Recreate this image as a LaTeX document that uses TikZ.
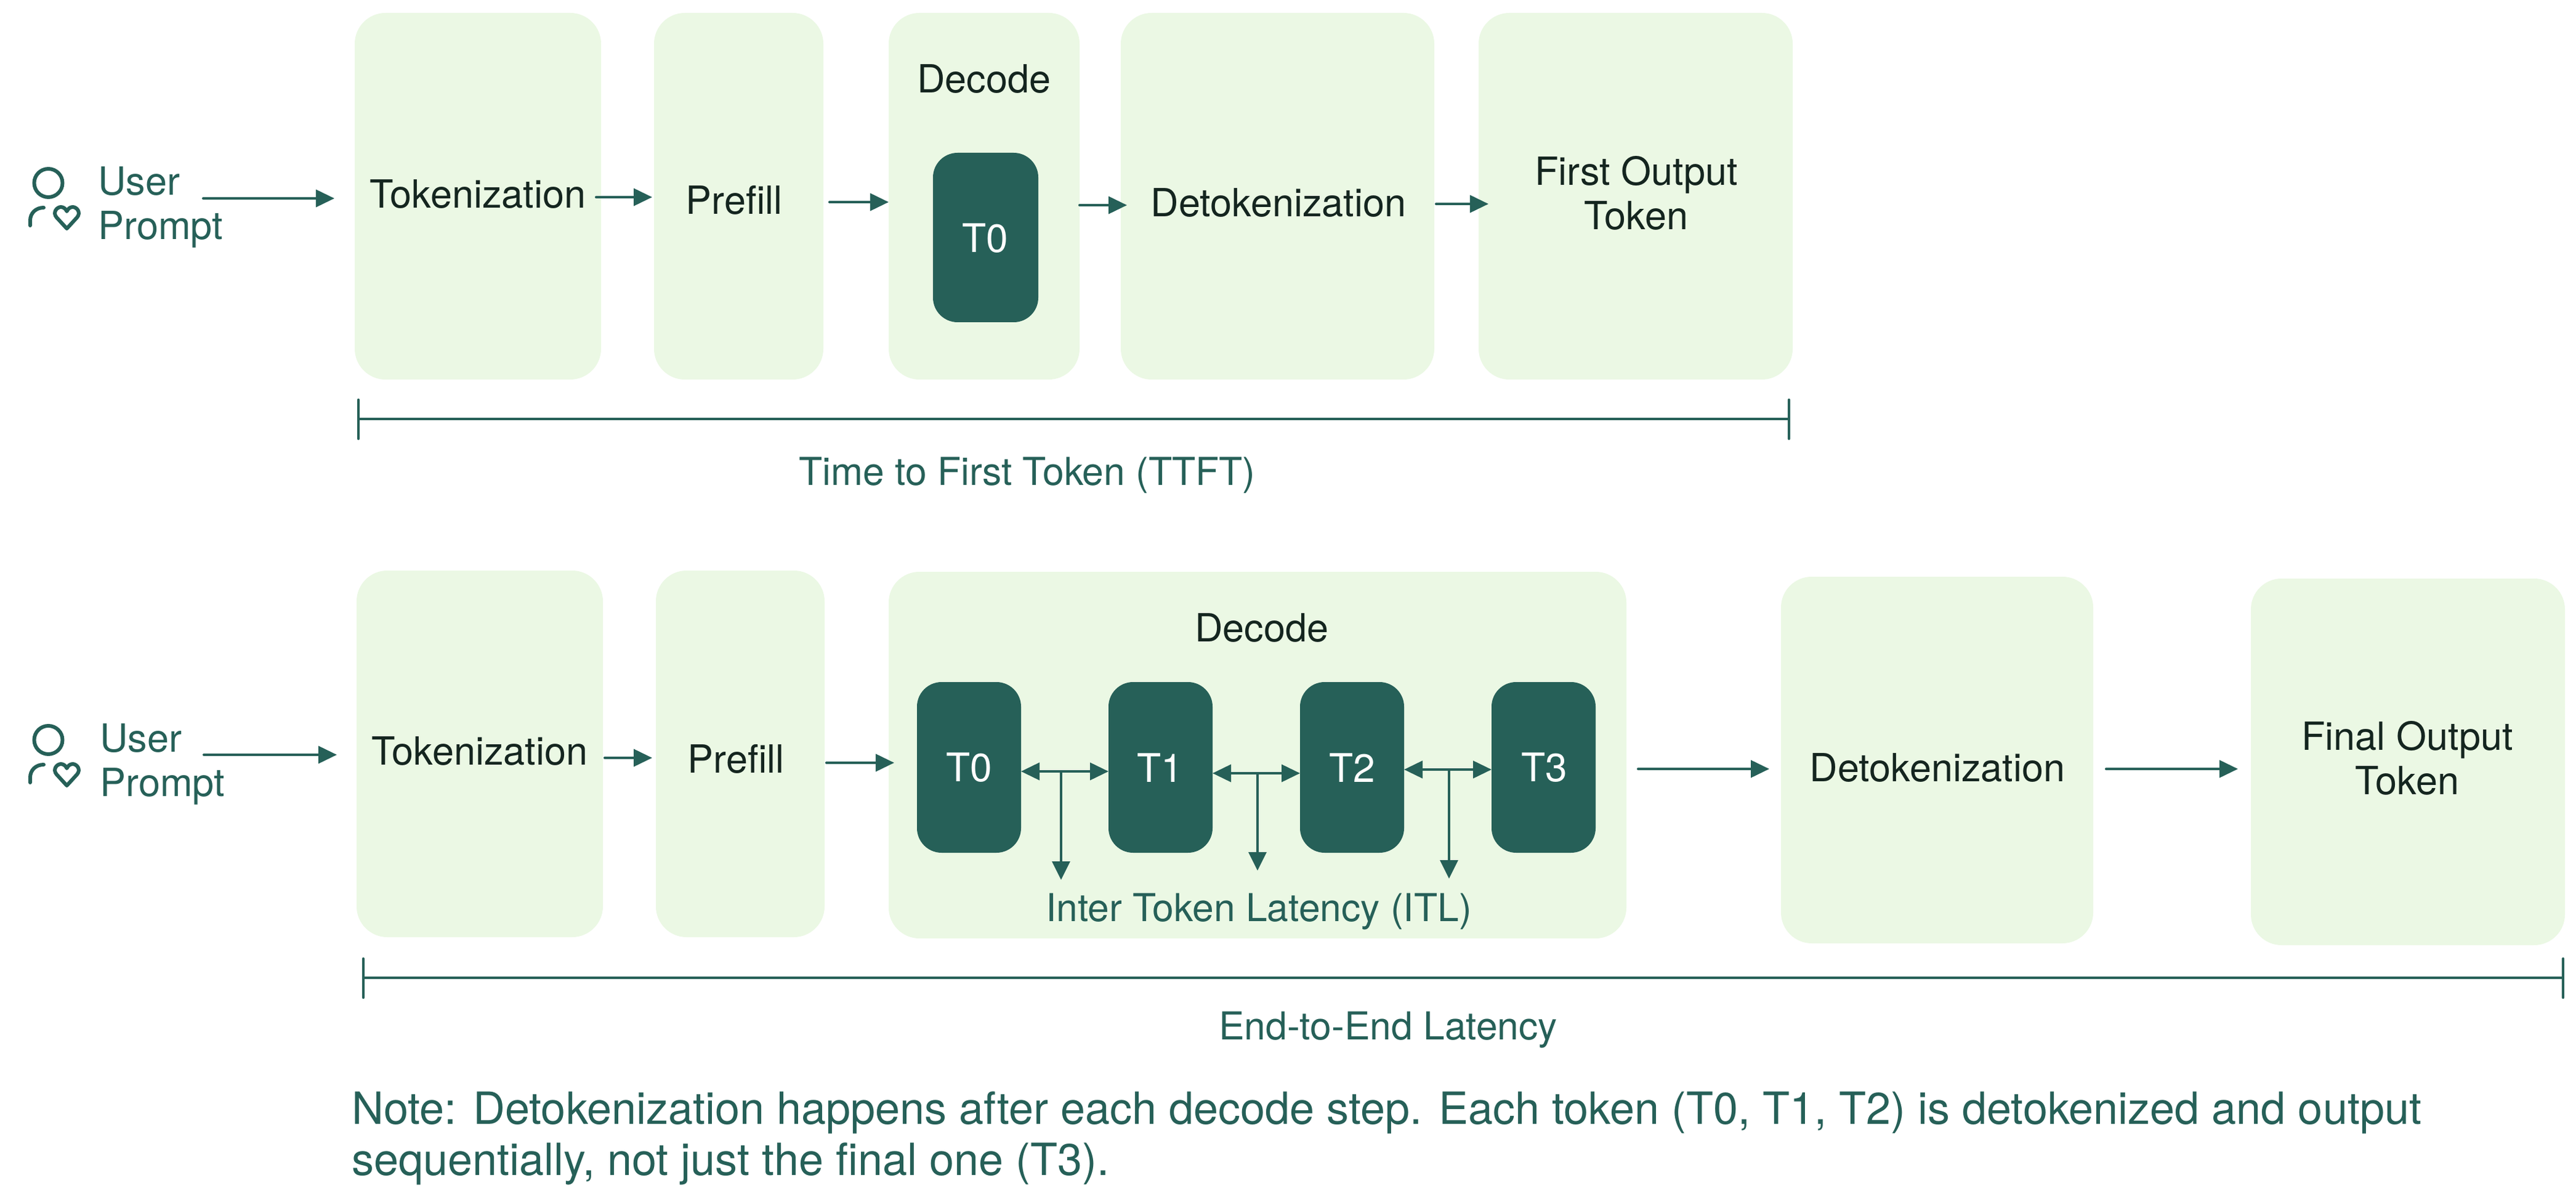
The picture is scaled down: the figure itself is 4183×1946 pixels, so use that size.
\documentclass[tikz,border=0pt]{standalone}
\usepackage{fontspec}
\setmainfont{TeX Gyre Heros}
\usetikzlibrary{arrows.meta,calc}
\definecolor{dk}{HTML}{266058}
\definecolor{lt}{HTML}{EBF8E4}
\definecolor{ink}{HTML}{14251F}
\newcommand{\bx}[6]{% name, x1,y1,x2,y2, style
  \pgfmathsetmacro{\bw}{(#4-#2)*0.5}\pgfmathsetmacro{\bh}{(#5-#3)*0.5}
  \pgfmathsetmacro{\bcx}{(#2+#4)/2}\pgfmathsetmacro{\bcy}{(#3+#5)/2}
  \node[#6,minimum width=\bw pt,minimum height=\bh pt] (#1) at (\bcx,\bcy) {};}
\tikzset{
  x=0.5pt,y=-0.5pt,
  lightbox/.style={fill=lt,draw=none,rounded corners=25pt,inner sep=0pt,outer sep=0pt},
  darkbox/.style={fill=dk,draw=none,rounded corners=20pt,inner sep=0pt,outer sep=0pt},
  boxlabel/.style={text=ink,font=\fontsize{31.5}{36}\selectfont,align=center,inner sep=0pt},
  toklabel/.style={text=white,font=\fontsize{32}{36}\selectfont,inner sep=0pt},
  greenlabel/.style={text=dk,font=\fontsize{31.2}{36}\selectfont,align=center,inner sep=0pt},
  userlabel/.style={text=dk,font=\fontsize{31.5}{36}\selectfont,align=left,inner sep=0pt,anchor=west},
  arr/.style={draw=dk,line width=2pt,line cap=round,-{Triangle[length=15pt,width=14pt]}},
  darr/.style={draw=dk,line width=2pt,{Triangle[length=15pt,width=14pt]}-{Triangle[length=15pt,width=14pt]}},
  downarr/.style={draw=dk,line width=1.7pt,-{Triangle[length=15pt,width=14.5pt]}},
  span/.style={draw=dk,line width=2.2pt},
  usericon/.pic={
    \draw[dk,line width=3pt] (78.5,297) circle[radius=23];
    \draw[dk,line width=3pt,line cap=round] (49,366) -- (49,358) .. controls (49,346) and (58,337) .. (71,337);
    \draw[dk,line width=3pt,line join=round] (108.5,371) -- (92,353) .. controls (85,345) and (92,336) .. (99,336) .. controls (103,336) and (107,339) .. (108.5,343) .. controls (110,339) and (114,336) .. (118,336) .. controls (125,336) and (132,345) .. (125,353) -- cycle;
  }
}
\begin{document}
\begin{tikzpicture}
\useasboundingbox (0,0) rectangle (4183,1946);
\fill[white] (0,0) rectangle (4183,1946);
% --- top row
\bx{tokA}{576}{21}{976}{616}{lightbox}
\bx{preA}{1062}{21}{1337}{616}{lightbox}
\bx{decA}{1443}{21}{1753}{616}{lightbox}
\bx{detA}{1820}{21}{2329}{616}{lightbox}
\bx{firA}{2401}{21}{2911}{616}{lightbox}
\bx{tzA}{1515}{248}{1686}{523}{darkbox}
\node[boxlabel] (ltokA) at (776,315) {Tokenization};
\node[boxlabel] (lpreA) at (1192,325) {Prefill};
\node[boxlabel] (ldecA) at (1598,128) {Decode};
\node[toklabel] (ltzA) at (1600,387) {T0};
\node[boxlabel] (ldetA) at (2076,329) {Detokenization};
\node[boxlabel] (lfirA) at (2657,313) {First Output\\Token};
\pic at (0,0) {usericon};
\node[userlabel] (upA) at (159,336) {User\\Prompt};
\coordinate (a0) at (330,322);
\coordinate (a1) at (968,320);
\coordinate (a2) at (1347,328);
\coordinate (a3) at (1753,333);
\coordinate (a4) at (2332,331);
\draw[arr] (a0) -- ($(a0 -| tokA.west)+(-33,0)$);
\draw[arr] (a1) -- ($(a1 -| preA.west)+(-3,0)$);
\draw[arr] (a2) -- (a2 -| decA.west);
\draw[arr] (a3) -- ($(a3 -| detA.west)+(10,0)$);
\draw[arr] (a4) -- ($(a4 -| firA.west)+(16,0)$);
\coordinate (sAl) at (582,680);
\coordinate (sAr) at (2905,680);
\draw[span] (sAl) -- (sAr);
\draw[span,line cap=round] ($(sAl)+(0,-31)$) -- ($(sAl)+(0,32)$);
\draw[span,line cap=round] ($(sAr)+(0,-31)$) -- ($(sAr)+(0,32)$);
\node[greenlabel] (ttft) at (1668,771) {Time to First Token (TTFT)};
% --- bottom row
\bx{tokB}{579}{926}{979}{1521}{lightbox}
\bx{preB}{1065}{926}{1339}{1521}{lightbox}
\bx{decB}{1443}{928}{2641}{1523}{lightbox}
\bx{detB}{2892}{936}{3399}{1531}{lightbox}
\bx{finB}{3655}{939}{4165}{1534}{lightbox}
\bx{tzB}{1489}{1107}{1658}{1384}{darkbox}
\bx{toB}{1800}{1107}{1969}{1384}{darkbox}
\bx{twB}{2111}{1107}{2280}{1384}{darkbox}
\bx{thB}{2422}{1107}{2591}{1384}{darkbox}
\node[boxlabel] (ltokB) at (779,1219) {Tokenization};
\node[boxlabel] (lpreB) at (1195,1232) {Prefill};
\node[boxlabel] (ldecB) at (2049,1019) {Decode};
\node[toklabel] (ltzB) at (1574,1246) {T0};
\node[toklabel] (ltoB) at (1884,1246) {T1};
\node[toklabel] (ltwB) at (2196,1246) {T2};
\node[toklabel] (lthB) at (2508,1246) {T3};
\node[greenlabel] (itl) at (2044,1480) {Inter Token Latency (ITL)};
\node[boxlabel] (ldetB) at (3146,1246) {Detokenization};
\node[boxlabel] (lfinB) at (3909,1230) {Final Output\\Token};
\pic at (0,904) {usericon};
\node[userlabel] (upB) at (162,1240) {User\\Prompt};
\coordinate (b0) at (331,1225);
\coordinate (b1) at (982,1230);
\coordinate (b2) at (1342,1238);
\coordinate (b3) at (2660,1248);
\coordinate (b4) at (3420,1248);
\draw[arr] (b0) -- ($(b0 -| tokB.west)+(-32,0)$);
\draw[arr] (b1) -- ($(b1 -| preB.west)+(-6,0)$);
\draw[arr] (b2) -- ($(b2 -| decB.west)+(9,0)$);
\draw[arr] (b3) -- ($(b3 -| detB.west)+(-19,0)$);
\draw[arr] (b4) -- ($(b4 -| finB.west)+(-21,0)$);
\coordinate (d1) at (1723,1252);
\coordinate (d2) at (2042,1255);
\coordinate (d3) at (2353,1249);
\draw[darr] (d1 -| tzB.east) -- (d1 -| toB.west);
\draw[darr] (d2 -| toB.east) -- (d2 -| twB.west);
\draw[darr] (d3 -| twB.east) -- (d3 -| thB.west);
\draw[downarr] (d1) -- ($(d1)+(0,176)$);
\draw[downarr] (d2) -- ($(d2)+(0,158)$);
\draw[downarr] (d3) -- ($(d3)+(0,177)$);
\coordinate (sBl) at (590,1587);
\coordinate (sBr) at (4162,1587);
\draw[span] (sBl) -- (sBr);
\draw[span,line cap=round] ($(sBl)+(0,-31)$) -- ($(sBl)+(0,32)$);
\draw[span,line cap=round] ($(sBr)+(0,-31)$) -- ($(sBr)+(0,32)$);
\node[greenlabel] (e2e) at (2254,1672) {End-to-End Latency};
\node[text=dk,font=\fontsize{36}{41.5}\selectfont,align=left,inner sep=0pt,anchor=west] (note) at (571,1847) {Note: Detokenization happens after each decode step. Each token (T0, T1, T2) is detokenized and output\\sequentially, not just the final one (T3).};
\end{tikzpicture}
\end{document}
